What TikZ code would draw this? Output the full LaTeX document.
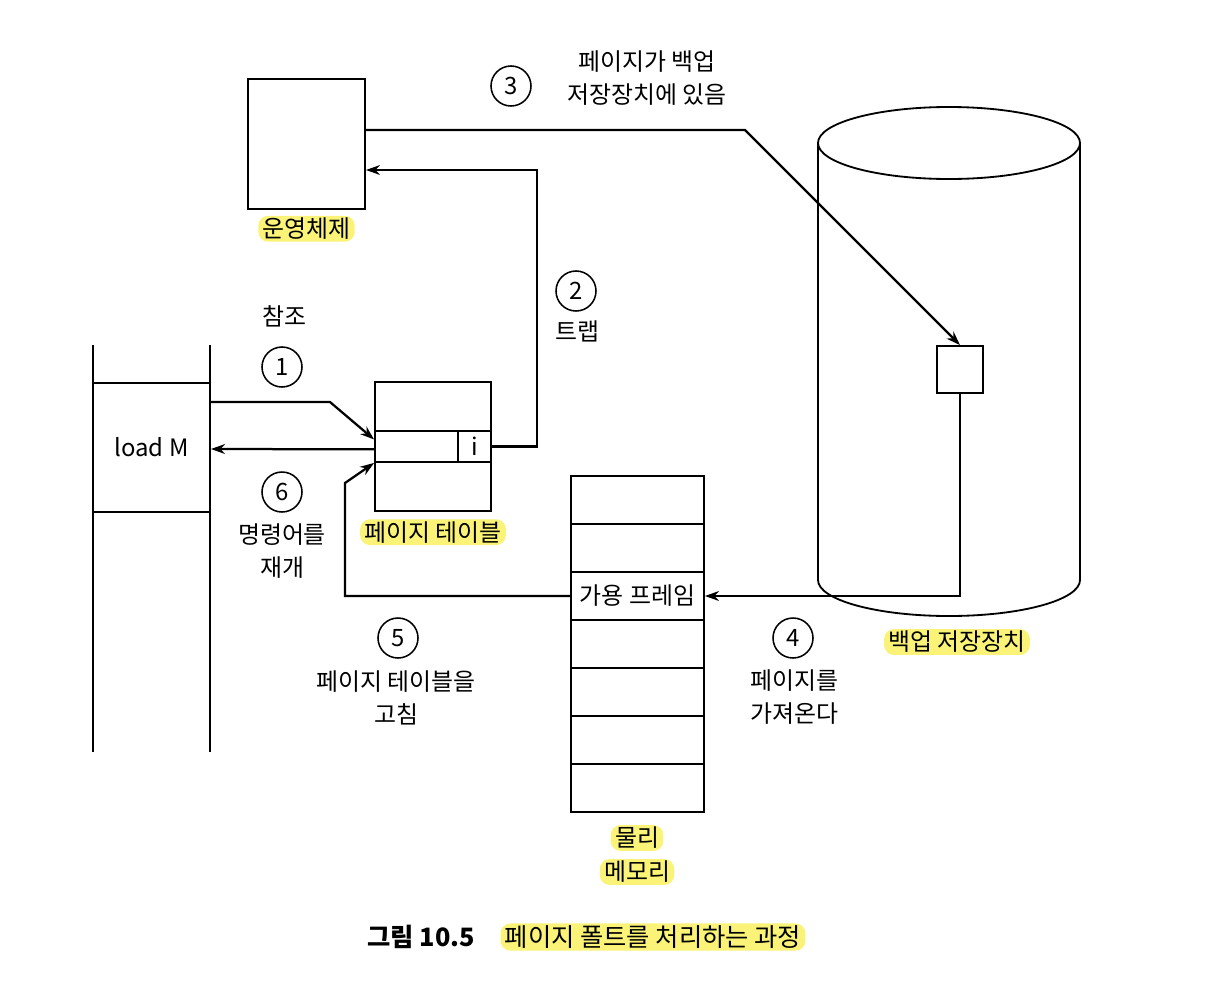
\documentclass[tikz,border=0pt]{standalone}
\usepackage{fontspec}
\setmainfont{Noto Sans CJK KR}
\usetikzlibrary{arrows.meta, positioning, calc}
\definecolor{hiyellow}{RGB}{250,243,120}

\begin{document}
\begin{tikzpicture}[x=0.025cm, y=-0.025cm,
    font=\fontsize{17}{24}\selectfont,
    box/.style={draw, line width=1.3pt, inner sep=0pt},
    conn/.style={line width=1.6pt, -{Stealth[length=10pt,width=7pt]}},
    stepno/.style={draw, circle, line width=1.1pt, minimum size=1cm, inner sep=0pt},
    hl/.style={fill=hiyellow, rounded corners=7pt, inner xsep=3pt, inner ysep=1.5pt},
    lbl/.style={align=center}]
  \useasboundingbox (0,0) rectangle (1229,1000);

  % program
  \draw[line width=1.3pt] (93,345) -- (93,752) (210,345) -- (210,752);
  \node[box, minimum width=2.925cm, minimum height=3.225cm] (instr) at (151.5,447.5) {load M};

  % operating system
  \node[box, minimum width=2.925cm, minimum height=3.25cm] (os) at (306.5,144) {};
  \node[hl, below=4pt of os] (oslbl) {운영체제};

  % page table
  \node[box, minimum width=2.9cm, minimum height=3.225cm] (pt) at (433,446.5) {};
  \node[box, minimum width=2.075cm, minimum height=0.775cm] (entry) at (416.5,446.5) {};
  \node[box, minimum width=0.825cm, minimum height=0.775cm] (ibit) at (474.5,446.5) {i};
  \node[hl, below=5pt of pt] (ptlbl) {페이지 테이블};

  % physical memory
  \foreach \r in {0,...,6}
    \node[box, minimum width=3.325cm, minimum height=1.2cm] (mem\r) at (637.5,{500+48*\r}) {};
  \node (free) at (mem2) {가용 프레임};
  \node[hl] (memlbl1) at (637,838) {물리};
  \node[hl] (memlbl2) at (637,872) {메모리};

  % backing store
  \draw[line width=1.3pt] (949,143) ellipse[x radius=131, y radius=36];
  \draw[line width=1.3pt] (818,143) -- (818,580)
    arc[start angle=180, end angle=0, x radius=131, y radius=36] -- (1080,143);
  \node[box, minimum width=1.15cm, minimum height=1.175cm] (blk) at (960,369.5) {};
  \node[hl] (bslbl) at (957,642) {백업 저장장치};

  % connectors
  \coordinate (bend1) at (330,402);
  \coordinate (trapc) at (537,170);
  \coordinate (bend3) at (745,130);
  \coordinate (bend5) at (345,483);
  \draw[conn] (instr.east |- bend1) -- (bend1) -- ([yshift=5pt]entry.west);
  \draw[conn] ([yshift=-2pt]entry.west) -- (instr.east |- {0,449});
  \draw[conn] (ibit.east) -| (trapc) -- (os.east |- trapc);
  \draw[conn] (os.east |- bend3) -- (bend3) -- (blk.north);
  \draw[conn] (blk.south) |- (mem2.east);
  \draw[conn] (mem2.west) -| (bend5) -- (entry.south west);

  % step labels
  \node[stepno] (s1) at (282,367) {1};
  \node (t1) at (284,316) {참조};
  \node[stepno] (s2) at (576,291) {2};
  \node (t2) at (577,331) {트랩};
  \node[stepno] (s3) at (511,86) {3};
  \node[lbl] (t3) at (647,78) {페이지가 백업\\저장장치에 있음};
  \node[stepno] (s4) at (793,638) {4};
  \node[lbl] (t4) at (794,697) {페이지를\\가져온다};
  \node[stepno] (s5) at (398,638) {5};
  \node[lbl] (t5) at (396,698) {페이지 테이블을\\고침};
  \node[stepno] (s6) at (282,492) {6};
  \node[lbl] (t6) at (282,551) {명령어를\\재개};

  % caption
  \node[font=\fontsize{18}{24}\selectfont\bfseries] (capno) at (421,937) {그림 10.5};
  \node[hl, font=\fontsize{18}{24}\selectfont] (captxt) at (653,937) {페이지 폴트를 처리하는 과정};
\end{tikzpicture}
\end{document}
